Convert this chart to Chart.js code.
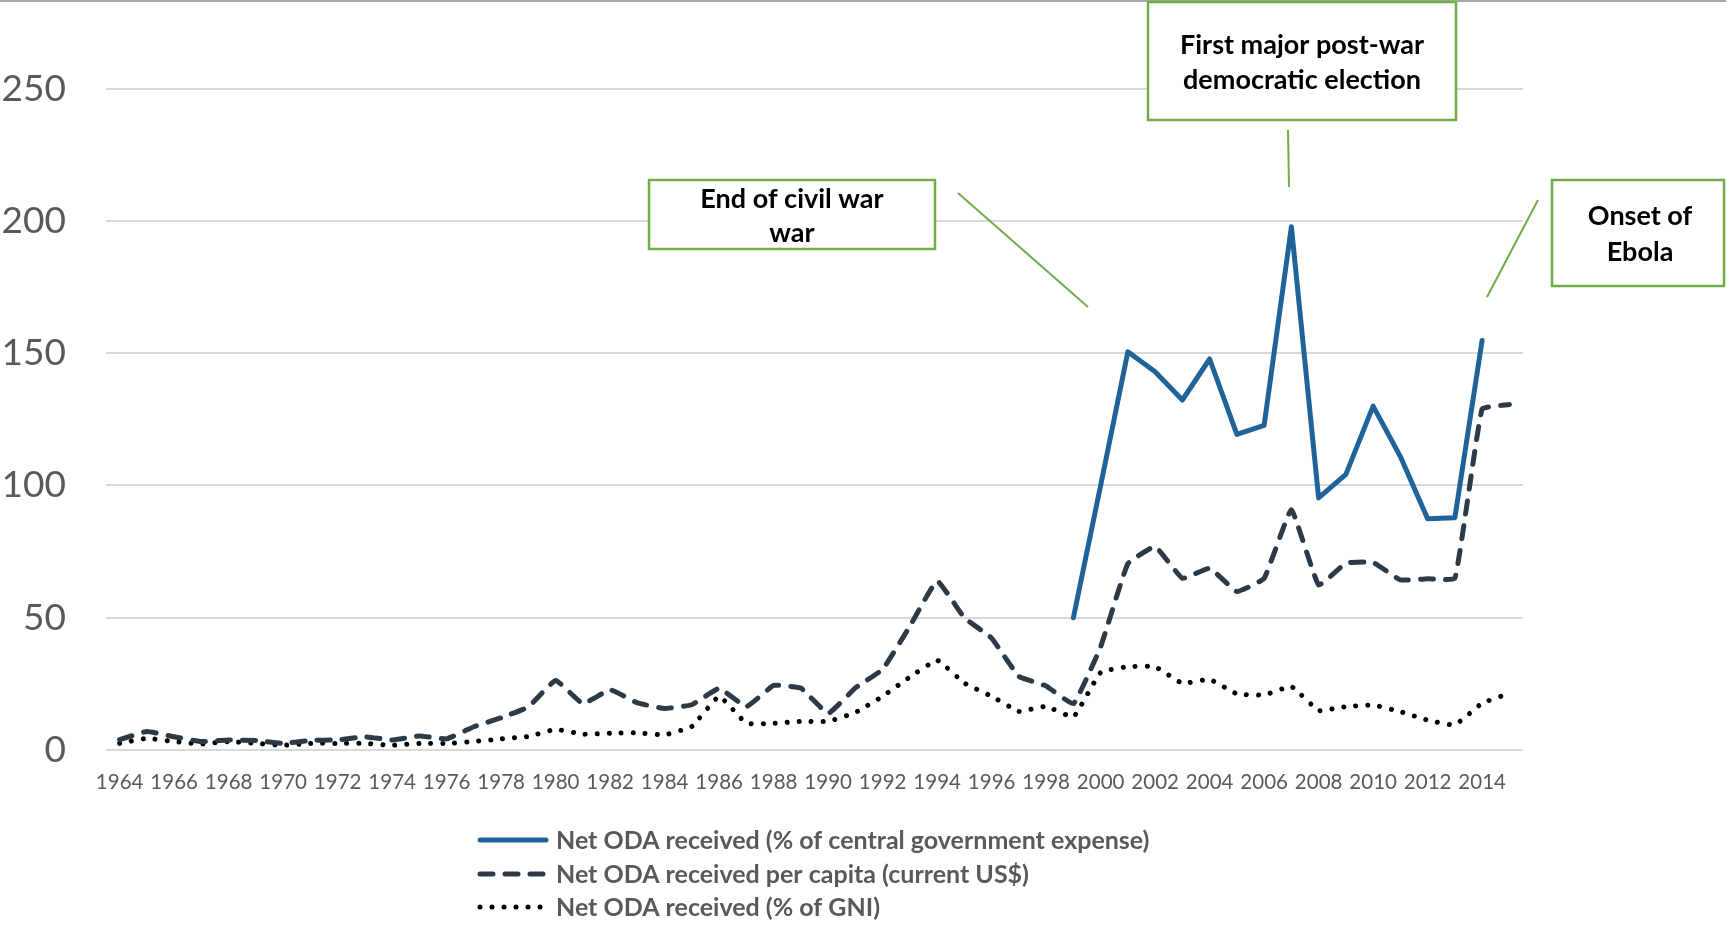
<!DOCTYPE html>
<html>
<head>
<meta charset="utf-8">
<script src="https://cdn.jsdelivr.net/npm/chart.js@4.4.1/dist/chart.umd.min.js"></script>
<style>
html,body{margin:0;padding:0;background:#fff;overflow:hidden;}
#wrap{position:relative;width:1726px;height:925px;}
canvas{display:block;}
</style>
</head>
<body>
<div id="wrap"><canvas id="c" width="1726" height="925"></canvas></div>
<script>
// ---------------- DATA ----------------
const years = [1964,1965,1966,1967,1968,1969,1970,1971,1972,1973,1974,1975,1976,1977,1978,1979,
  1980,1981,1982,1983,1984,1985,1986,1987,1988,1989,1990,1991,1992,1993,1994,1995,1996,1997,1998,1999,
  2000,2001,2002,2003,2004,2005,2006,2007,2008,2009,2010,2011,2012,2013,2014,2015];

const seriesNames = [
  "Net ODA received (% of central government expense)",
  "Net ODA received per capita (current US$)",
  "Net ODA received (% of GNI)"
];

// Net ODA received (% of central government expense)
const odaGovExpense = [null,null,null,null,null,null,null,null,null,null,null,null,null,null,null,null,
  null,null,null,null,null,null,null,null,null,null,null,null,null,null,null,null,null,null,null,50,
  100,150.5,143,132.3,147.8,119.3,122.7,197.8,95.3,104.2,130,110.9,87.4,87.8,154.8,null];

// Net ODA received per capita (current US$)
const odaPerCapita = [3.9,7,5,3.2,3.8,3.6,2.5,3.6,3.8,5,3.8,5.3,4.2,8.8,12.2,16.3,
  26.3,17.5,22.8,17.8,15.7,17.1,23.3,16.4,24.4,23.4,13.8,23.5,30.5,46.8,63.9,50,42.3,27.8,24.2,17.5,
  39,70.4,76.9,64.9,68.7,59.9,64.9,90.8,62.4,70.6,70.9,64.3,64.7,64.9,128.9,130.6];

// Net ODA received (% of GNI)
const odaGNI = [2.5,4.4,3.2,2.3,3.2,2.5,1.8,2.5,2.5,2.5,1.8,2.5,2.5,3.2,4.2,5.1,
  7.8,6,6.3,6.5,5.7,8.9,20.3,10.1,10.1,10.8,10.8,14.2,20.3,27.6,33.9,25.3,20.3,14.6,16.5,12.5,
  29.3,31.5,31.5,25.2,26.7,21.2,20.8,24,14.9,16.4,17,14.5,11.3,9.5,17.7,21.4];

const yTicks = [0,50,100,150,200,250];

const annotationTexts = [
  ["End of civil war", "war"],
  ["First major post-war", "democratic election"],
  ["Onset of", "Ebola"]
];

// ---------------- LAYOUT / STYLE ----------------
const FONT = "Lato, 'Open Sans', sans-serif";
const colors = ['#1F6398', '#2C3A48', '#000000'];
const green = '#70AD47';

const annotationLayout = [
  {box:[649,180,935,249], lines:[199,233], cx:792, conn:[958,193,1088,307]},
  {box:[1148,2,1456,120], lines:[45,80], cx:1302, conn:[1288,130,1289,187]},
  {box:[1552,180,1724,286], lines:[216,252], cx:1640, conn:[1538,200,1487,297]}
];

const legendLayout = {x0:480, x1:546, textX:556, rows:[840,874,907]};

const bgPlugin = {
  id:'bg',
  beforeDraw(chart){
    const c = chart.ctx;
    c.save(); c.fillStyle='#fff'; c.fillRect(0,0,chart.width,chart.height); c.restore();
  }
};

const overlayPlugin = {
  id:'overlay',
  afterDraw(chart){
    const c = chart.ctx;
    c.save();
    // top border line
    c.strokeStyle = '#A6A6A6'; c.lineWidth = 2;
    c.beginPath(); c.moveTo(0,1); c.lineTo(chart.width,1); c.stroke();

    // annotations
    annotationLayout.forEach((a, i) => {
      c.setLineDash([]);
      c.strokeStyle = green; c.lineWidth = 2;
      c.beginPath(); c.moveTo(a.conn[0],a.conn[1]); c.lineTo(a.conn[2],a.conn[3]); c.stroke();
      const [x0,y0,x1,y1] = a.box;
      c.fillStyle = '#fff'; c.fillRect(x0,y0,x1-x0,y1-y0);
      c.lineWidth = 2.5; c.strokeStyle = green;
      c.strokeRect(x0,y0,x1-x0,y1-y0);
      c.fillStyle = '#000';
      c.font = "bold 27px " + FONT;
      c.textAlign = 'center'; c.textBaseline = 'middle';
      annotationTexts[i].forEach((t, j) => c.fillText(t, a.cx, a.lines[j]));
    });

    // legend
    chart.data.datasets.forEach((ds, i) => {
      const y = legendLayout.rows[i];
      c.setLineDash(ds.borderDash || []);
      c.lineCap = 'round';
      c.lineWidth = ds.borderWidth;
      c.strokeStyle = ds.borderColor;
      c.beginPath(); c.moveTo(legendLayout.x0, y); c.lineTo(legendLayout.x1, y); c.stroke();
      c.setLineDash([]);
      c.fillStyle = '#595959';
      c.font = "bold 25px " + FONT;
      c.textAlign = 'left'; c.textBaseline = 'middle';
      c.fillText(ds.label, legendLayout.textX, y + 1);
    });
    c.restore();
  }
};

const ctx = document.getElementById('c').getContext('2d');
new Chart(ctx, {
  type: 'line',
  data: {
    labels: years,
    datasets: [
      {label: seriesNames[0], data: odaGovExpense, borderColor: colors[0], borderWidth: 5,
       pointRadius: 0, tension: 0, borderJoinStyle: 'round', borderCapStyle: 'round', spanGaps: false},
      {label: seriesNames[1], data: odaPerCapita, borderColor: colors[1], borderWidth: 5,
       borderDash: [13, 12], borderCapStyle: 'round', borderJoinStyle: 'round', pointRadius: 0, tension: 0.1},
      {label: seriesNames[2], data: odaGNI, borderColor: colors[2], borderWidth: 5,
       borderDash: [0.01, 12], borderCapStyle: 'round', borderJoinStyle: 'round', pointRadius: 0, tension: 0.1}
    ]
  },
  options: {
    responsive: false,
    animation: false,
    devicePixelRatio: 1,
    layout: {padding: {top: 0, right: 203, bottom: 115, left: 0}},
    plugins: {legend: {display: false}, tooltip: {enabled: false}},
    scales: {
      x: {
        offset: true,
        grid: {display: false, drawTicks: false},
        border: {display: false},
        ticks: {
          autoSkip: false, maxRotation: 0, minRotation: 0, padding: 20,
          color: '#595959', font: {family: FONT, size: 20.5},
          callback: function(v){ const yr = this.getLabelForValue(v); return (yr % 2 === 0) ? String(yr) : ''; }
        },
        afterFit: s => { s.height = 60; }
      },
      y: {
        min: 0, max: 283.5,
        grid: {color: '#D9D9D9', lineWidth: 2, drawTicks: false},
        border: {display: false},
        ticks: {stepSize: 50, padding: 40, color: '#595959', font: {family: FONT, size: 37}},
        afterBuildTicks: s => { s.ticks = yTicks.map(v => ({value: v})); },
        afterFit: s => { s.width = 106; s.paddingTop = 0; s.paddingBottom = 0; }
      }
    }
  },
  plugins: [bgPlugin, overlayPlugin]
});
</script>
</body>
</html>
